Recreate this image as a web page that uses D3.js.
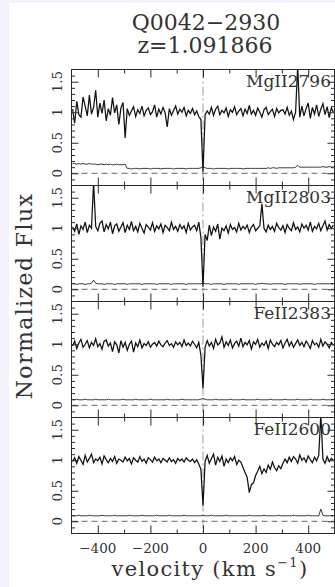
<!DOCTYPE html>
<html>
<head>
<meta charset="utf-8">
<script src="https://cdn.jsdelivr.net/npm/d3@7"></script>
<style>
  html, body { margin: 0; padding: 0; background: #fff; }
  svg { display: block; }
</style>
</head>
<body>
<div id="chart"></div>
<script>
// Données
const titleLines = ['Q0042\u22122930', 'z=1.091866'];
const transitions = ['MgII2796', 'MgII2803', 'FeII2383', 'FeII2600'];

// grille en vitesse (pixels de 8 km/s, centrés)
const vStart = -496;
const vStep = 8;

const xDomain = [-500, 500];
const yDomain = [-0.2, 1.7];
const xMajor = [-400, -200, 0, 200, 400];
const xMinor = [-300, -100, 100, 300];
const yMajor = [0, 0.5, 1, 1.5];
const yMinor = [-0.1, 0.1, 0.2, 0.3, 0.4, 0.6, 0.7, 0.8, 0.9, 1.1, 1.2, 1.3, 1.4, 1.6];

const fluxMg2796 = [
  1.05, 0.82, 1.18, 0.96, 0.92, 1.25, 1.1, 0.94, 1.28, 0.97,
  1.08, 1.36, 0.92, 1.15, 0.98, 1.2, 0.86, 1.06, 0.95, 1.24,
  0.99, 1.12, 0.8, 1.07, 1.16,
  0.58,
  1.06, 0.95, 1.02, 1.09, 0.93, 1.04, 0.98, 1.1, 0.94, 1.03,
  1.07, 0.96, 1.01, 1.12, 0.92, 1.05, 0.97, 1.08, 0.99, 0.76,
  1.06, 0.95, 1.03, 1.1,
  0.97, 1.05, 1.0, 1.08, 0.94, 1.03, 0.98, 1.06, 0.96, 1.02, 0.93,
  0.88, 0.02, 0.96,
  1.02, 0.97, 1.08, 0.95, 1.05, 1.1, 0.96, 1.03, 0.99, 1.07,
  0.93, 1.04, 1.0, 1.09, 0.96, 1.02, 1.06, 0.94, 1.05, 0.98,
  1.11, 0.97, 1.03, 0.95, 1.07, 1.0, 0.92, 1.04, 1.08, 0.96,
  1.01, 1.05, 0.93, 1.06, 0.99, 1.03,
  1.04, 0.97, 1.08, 0.95, 1.02, 0.88, 1.0, 1.75, 0.92,
  1.1, 0.94, 1.06, 1.15, 0.9, 1.08, 0.97, 1.12, 0.93, 1.05,
  1.14, 0.96, 1.09, 0.91, 1.07, 1.0
];
const sigmaMg2796 = [
  0.16, 0.16, 0.15, 0.16, 0.15, 0.16, 0.15, 0.15, 0.16, 0.15,
  0.15, 0.15, 0.14, 0.15, 0.15, 0.14, 0.15, 0.14, 0.15, 0.14,
  0.14, 0.15, 0.14, 0.14, 0.14, 0.15,
  0.08, 0.08, 0.07, 0.08, 0.08, 0.08, 0.07, 0.08, 0.08, 0.08,
  0.08, 0.07, 0.08, 0.08, 0.08, 0.08, 0.07, 0.08, 0.08, 0.08,
  0.08, 0.08, 0.07, 0.08, 0.08, 0.08, 0.08, 0.08, 0.07, 0.08,
  0.08, 0.08, 0.08, 0.08, 0.08, 0.09,
  0.11,
  0.09, 0.08, 0.08, 0.08, 0.07, 0.08, 0.08, 0.08, 0.08, 0.08,
  0.08, 0.07, 0.08, 0.08, 0.08, 0.08, 0.08, 0.08, 0.07, 0.08,
  0.08, 0.08, 0.08, 0.08, 0.08, 0.08, 0.08, 0.08, 0.08, 0.08,
  0.09, 0.08, 0.09, 0.09, 0.08, 0.09, 0.09, 0.09, 0.09, 0.09,
  0.09, 0.09, 0.09, 0.1,
  0.13,
  0.1, 0.1, 0.1, 0.1, 0.1, 0.1, 0.1, 0.1, 0.1, 0.1,
  0.1, 0.11, 0.1, 0.1, 0.11, 0.1, 0.11
];

const fluxMg2803 = [
  1.02, 0.95, 1.07, 0.9, 1.04, 0.98, 1.1, 0.93, 1.05, 1.0,
  1.75,
  1.03, 0.96, 1.08, 1.12, 0.94, 1.06, 0.99, 1.1, 0.91, 1.04,
  1.07, 0.95, 1.02, 1.09, 0.93, 1.05, 0.98, 1.11, 0.96, 1.03,
  0.94, 1.08, 1.0, 0.92, 1.06, 1.02, 0.97, 1.09, 0.95, 1.04,
  0.99, 1.07, 0.93, 1.05, 1.01, 0.96, 1.1, 0.98, 1.03,
  0.95, 1.06, 0.99, 1.04, 0.93, 1.08, 0.97, 1.02, 1.05, 0.96, 1.1,
  0.85, 0.04, 0.9,
  0.8, 1.05, 0.88, 1.02, 0.95, 1.07, 0.82, 1.0, 0.96, 1.04,
  0.92, 1.06, 0.98, 1.01, 0.94, 1.08, 0.97, 1.03, 0.99, 1.05,
  0.93, 1.02, 1.06, 0.96, 1.0, 1.04,
  1.4,
  1.0, 0.94, 1.05, 0.98, 1.03, 0.95, 1.08, 1.01, 0.97, 1.04,
  0.93, 1.06, 1.0, 0.96, 1.09, 0.98, 1.02, 0.94, 1.07, 1.0,
  1.05, 0.97, 1.1, 0.95, 1.03, 0.99, 1.08, 0.96, 1.04, 1.12,
  0.97, 1.06, 1.0, 1.05
];
const sigmaMg2803 = [
  0.09, 0.09, 0.08, 0.09, 0.09, 0.09, 0.08, 0.09, 0.09, 0.1,
  0.15,
  0.1, 0.09, 0.09, 0.09, 0.08, 0.09, 0.09, 0.09, 0.09, 0.08,
  0.09, 0.09, 0.09, 0.09, 0.09, 0.08, 0.09, 0.09, 0.09, 0.09,
  0.09, 0.09, 0.08, 0.09, 0.09, 0.09, 0.09, 0.09, 0.09, 0.08,
  0.09, 0.09, 0.09, 0.09, 0.09, 0.09, 0.08, 0.09, 0.09, 0.09,
  0.09, 0.09, 0.09, 0.08, 0.09, 0.09, 0.09, 0.09, 0.09, 0.09,
  0.09, 0.11,
  0.09, 0.09, 0.09, 0.08, 0.09, 0.09, 0.09, 0.09, 0.09, 0.08,
  0.09, 0.09, 0.09, 0.09, 0.09, 0.09, 0.08, 0.09, 0.09, 0.09,
  0.09, 0.09, 0.09, 0.09, 0.08, 0.09, 0.09,
  0.1,
  0.09, 0.09, 0.09, 0.08, 0.09, 0.09, 0.09, 0.09, 0.09, 0.09,
  0.08, 0.09, 0.09, 0.09, 0.09, 0.09, 0.09, 0.08, 0.09, 0.09,
  0.09, 0.09, 0.09, 0.09, 0.08, 0.09, 0.09, 0.09, 0.09, 0.09,
  0.09, 0.09, 0.09, 0.09
];

const fluxFe2383 = [
  0.97, 1.05, 0.93, 1.02, 1.08, 0.95, 1.0, 1.06, 0.94, 1.03,
  0.98, 1.09, 0.96, 1.01, 0.92, 1.05, 1.07, 0.97, 1.02, 0.88,
  1.04, 0.99, 0.86, 1.06, 0.95, 1.03, 0.9, 1.0, 1.05, 0.87,
  1.02, 0.96, 1.07, 0.94, 1.01, 0.98, 1.04, 0.95, 1.0, 1.03,
  0.97, 1.05, 0.99, 0.96, 1.02, 1.06, 0.98, 1.01, 0.95, 1.04,
  0.99, 1.03, 0.96, 1.07, 0.98, 1.02, 0.97, 1.05, 1.0, 0.94,
  1.03,
  0.82, 0.28, 0.95,
  1.06, 0.97, 1.03, 0.93, 1.08, 0.99, 1.02, 1.12, 0.95, 1.04,
  0.98, 1.07, 0.94, 1.01, 1.05, 0.97, 1.1, 0.96, 1.03, 0.99,
  1.06, 0.92, 1.04, 1.0, 1.08, 0.95, 1.02, 0.98, 1.05, 0.93,
  1.07, 1.0, 0.96, 1.03, 0.99, 1.06, 0.94, 1.02, 1.08, 0.97,
  1.04, 0.95, 1.01, 1.07, 0.98, 1.03, 0.96, 1.05, 1.0, 0.93,
  1.06, 0.99, 1.02, 0.95, 1.08, 0.97, 1.04, 1.0, 0.94, 1.03,
  0.98
];
const sigmaFe2383 = [
  0.09, 0.09, 0.1, 0.09, 0.09, 0.09, 0.1, 0.09, 0.09, 0.09,
  0.09, 0.1, 0.09, 0.09, 0.09, 0.09, 0.09, 0.1, 0.09, 0.09,
  0.09, 0.09, 0.09, 0.09, 0.1, 0.09, 0.09, 0.09, 0.09, 0.09,
  0.1, 0.09, 0.09, 0.09, 0.09, 0.09, 0.09, 0.1, 0.09, 0.09,
  0.09, 0.09, 0.09, 0.09, 0.09, 0.1, 0.09, 0.09, 0.09, 0.09,
  0.09, 0.09, 0.1, 0.09, 0.09, 0.09, 0.09, 0.09, 0.09, 0.09,
  0.09, 0.1,
  0.11,
  0.1, 0.09, 0.09, 0.09, 0.09, 0.1, 0.09, 0.09, 0.09, 0.09,
  0.09, 0.09, 0.1, 0.09, 0.09, 0.09, 0.09, 0.09, 0.1, 0.09,
  0.09, 0.09, 0.09, 0.09, 0.09, 0.1, 0.09, 0.09, 0.09, 0.09,
  0.09, 0.1, 0.09, 0.09, 0.09, 0.09, 0.09, 0.09, 0.1, 0.09,
  0.09, 0.09, 0.09, 0.09, 0.1, 0.09, 0.09, 0.09, 0.09, 0.09,
  0.1, 0.09, 0.09, 0.09, 0.09, 0.09, 0.1, 0.09, 0.09, 0.09,
  0.09, 0.1
];

const fluxFe2600 = [
  0.98, 1.04, 0.95, 1.06, 1.0, 0.93, 1.08, 0.97, 1.03, 1.1,
  0.96, 1.02, 0.99, 1.05, 0.94, 1.07, 1.01, 0.96, 1.03, 0.98,
  1.06, 0.95, 1.02, 1.0, 0.97, 1.05, 0.99, 1.03, 0.94, 1.04,
  1.0, 0.97, 1.06, 0.98, 1.02, 0.95, 1.04, 1.01, 0.97, 1.05,
  0.99, 1.02, 0.96, 1.03, 1.0, 0.97, 1.04, 0.98, 1.01, 0.95,
  1.03, 0.99, 1.02, 0.97, 1.04, 1.0, 0.98, 1.02, 0.96, 1.01,
  0.94,
  0.85, 0.26, 0.98,
  1.08, 0.95, 1.03, 1.1, 0.92, 1.05, 0.98, 1.07, 0.9, 1.02,
  0.96, 1.04, 0.99, 1.06, 0.93, 1.0, 0.97, 0.88, 0.8, 0.72,
  0.47, 0.6, 0.63, 0.75, 0.82, 0.9, 0.78, 0.86, 0.8, 0.92,
  0.85, 0.97, 0.88, 0.83, 0.91, 0.86, 0.95, 1.02, 0.96, 1.05,
  0.98, 1.06, 1.02, 0.95, 1.09, 1.0, 1.04, 0.97, 1.07, 1.01,
  0.96, 1.05, 0.99, 1.08, 1.75, 1.02, 0.95, 1.06, 0.98, 1.03, 1.0
];
const sigmaFe2600 = [
  0.09, 0.09, 0.09, 0.1, 0.09, 0.09, 0.09, 0.09, 0.1, 0.09,
  0.09, 0.09, 0.09, 0.09, 0.1, 0.09, 0.09, 0.09, 0.09, 0.09,
  0.1, 0.09, 0.09, 0.09, 0.09, 0.09, 0.09, 0.1, 0.09, 0.09,
  0.09, 0.09, 0.09, 0.1, 0.09, 0.09, 0.09, 0.09, 0.09, 0.09,
  0.1, 0.09, 0.09, 0.09, 0.09, 0.09, 0.1, 0.09, 0.09, 0.09,
  0.09, 0.09, 0.09, 0.1, 0.09, 0.09, 0.09, 0.09, 0.09, 0.09,
  0.09, 0.09,
  0.1,
  0.09, 0.09, 0.09, 0.1, 0.09, 0.09, 0.09, 0.09, 0.09, 0.09,
  0.1, 0.09, 0.09, 0.09, 0.09, 0.09, 0.09, 0.09, 0.09, 0.09,
  0.09, 0.1, 0.09, 0.09, 0.09, 0.09, 0.09, 0.09, 0.1, 0.09,
  0.09, 0.09, 0.09, 0.09, 0.09, 0.1, 0.09, 0.09, 0.09, 0.09,
  0.09, 0.09, 0.1, 0.09, 0.09, 0.09, 0.09, 0.09, 0.09, 0.1,
  0.09, 0.09, 0.09, 0.09, 0.09,
  0.2,
  0.1, 0.09, 0.09, 0.09, 0.09, 0.09
];

const fluxes = [fluxMg2796, fluxMg2803, fluxFe2383, fluxFe2600];
const sigmas = [sigmaMg2796, sigmaMg2803, sigmaFe2383, sigmaFe2600];

// Mise en page
const width = 335, height = 587;
const plotLeft = 71.5, plotRight = 334.5;
const firstTop = 69.5, panelH = 116;
const serif = '"DejaVu Serif", "Liberation Serif", serif';
const ink = '#2a2a2a';

const svg = d3.select('#chart').append('svg')
    .attr('width', width)
    .attr('height', height);

// fond : liseré lavande à gauche et en haut
svg.append('rect').attr('width', width).attr('height', height).attr('fill', '#f4f2fc');
svg.append('rect').attr('x', 9).attr('y', 3)
    .attr('width', width - 9).attr('height', height - 3).attr('fill', '#fff');

const x = d3.scaleLinear().domain(xDomain).range([plotLeft, plotRight]);

// Titre
svg.append('text')
    .attr('x', 206).attr('y', 30)
    .attr('text-anchor', 'middle')
    .style('font-family', serif).style('font-size', '22px').style('fill', '#333')
    .text(titleLines[0]);
svg.append('text')
    .attr('x', 205).attr('y', 53)
    .attr('text-anchor', 'middle')
    .style('font-family', serif).style('font-size', '22px').style('fill', '#333')
    .text(titleLines[1]);

transitions.forEach((name, i) => {
    const top = firstTop + i * panelH;
    const bottom = top + panelH;
    const y = d3.scaleLinear().domain(yDomain).range([bottom, top]);
    const g = svg.append('g').attr('class', 'panel');

    const clipId = 'clip-' + i;
    svg.append('clipPath').attr('id', clipId)
        .append('rect')
        .attr('x', plotLeft).attr('y', top)
        .attr('width', plotRight - plotLeft).attr('height', panelH);

    // ligne de vitesse nulle (tiret-point gris)
    g.append('line')
        .attr('x1', x(0)).attr('x2', x(0))
        .attr('y1', top).attr('y2', bottom)
        .attr('stroke', '#9a9a9a')
        .attr('stroke-width', 1)
        .attr('stroke-dasharray', '9,3,2,3');

    // ligne de flux nul (tirets)
    g.append('line')
        .attr('x1', plotLeft).attr('x2', plotRight)
        .attr('y1', y(0)).attr('y2', y(0))
        .attr('stroke', '#666')
        .attr('stroke-width', 1)
        .attr('stroke-dasharray', '6,4');

    const line = d3.line()
        .x(d => x(d.v))
        .y(d => y(d.f));

    const spec = fluxes[i].map((f, j) => ({ v: vStart + j * vStep, f: f }));
    const err = sigmas[i].map((f, j) => ({ v: vStart + j * vStep, f: f }));

    const data = g.append('g').attr('clip-path', `url(#${clipId})`);
    data.append('path')
        .datum(err)
        .attr('d', line)
        .attr('fill', 'none')
        .attr('stroke', '#222')
        .attr('stroke-width', 0.9);
    data.append('path')
        .datum(spec)
        .attr('d', line)
        .attr('fill', 'none')
        .attr('stroke', '#111')
        .attr('stroke-width', 1.25);

    // axes : graduations vers l'intérieur sur les quatre côtés
    const noText = () => '';
    const axes = [
        g.append('g').attr('transform', `translate(0,${top})`)
            .call(d3.axisBottom(x).tickValues(xMajor).tickSize(8).tickFormat(noText)),
        g.append('g').attr('transform', `translate(0,${top})`)
            .call(d3.axisBottom(x).tickValues(xMinor).tickSize(4).tickFormat(noText)),
        g.append('g').attr('transform', `translate(0,${bottom})`)
            .call(d3.axisTop(x).tickValues(xMajor).tickSize(8).tickFormat(noText)),
        g.append('g').attr('transform', `translate(0,${bottom})`)
            .call(d3.axisTop(x).tickValues(xMinor).tickSize(4).tickFormat(noText)),
        g.append('g').attr('transform', `translate(${plotLeft},0)`)
            .call(d3.axisRight(y).tickValues(yMajor).tickSize(7).tickFormat(noText)),
        g.append('g').attr('transform', `translate(${plotLeft},0)`)
            .call(d3.axisRight(y).tickValues(yMinor).tickSize(3.5).tickFormat(noText)),
        g.append('g').attr('transform', `translate(${plotRight},0)`)
            .call(d3.axisLeft(y).tickValues(yMajor).tickSize(7).tickFormat(noText)),
        g.append('g').attr('transform', `translate(${plotRight},0)`)
            .call(d3.axisLeft(y).tickValues(yMinor).tickSize(3.5).tickFormat(noText))
    ];
    axes.forEach(a => {
        a.select('.domain').remove();
        a.selectAll('line').attr('stroke', ink);
    });

    // cadre
    g.append('rect')
        .attr('x', plotLeft).attr('y', top)
        .attr('width', plotRight - plotLeft).attr('height', panelH)
        .attr('fill', 'none')
        .attr('stroke', ink)
        .attr('stroke-width', 1);

    // étiquettes de l'axe des flux (tournées)
    g.selectAll('.ylab')
        .data(yMajor)
        .enter()
        .append('text')
        .attr('class', 'ylab')
        .attr('transform', d => `translate(62,${y(d)}) rotate(-90)`)
        .attr('text-anchor', 'middle')
        .style('font-family', serif)
        .style('font-size', '13.5px')
        .style('fill', '#333')
        .text(d => String(d));

    // nom de la transition
    g.append('text')
        .attr('x', 331).attr('y', top + 17)
        .attr('text-anchor', 'end')
        .style('font-family', serif)
        .style('font-size', '17px')
        .style('fill', '#333')
        .text(name);

    // étiquettes de vitesse sous le dernier panneau
    if (i === transitions.length - 1) {
        g.selectAll('.xlab')
            .data(xMajor)
            .enter()
            .append('text')
            .attr('class', 'xlab')
            .attr('x', d => x(d))
            .attr('y', bottom + 19)
            .attr('text-anchor', 'middle')
            .style('font-family', serif)
            .style('font-size', '13.5px')
            .style('fill', '#333')
            .text(d => d < 0 ? '\u2212' + Math.abs(d) : String(d));
    }
});

// titres des axes
svg.append('text')
    .attr('transform', 'translate(32,296) rotate(-90)')
    .attr('text-anchor', 'middle')
    .style('font-family', serif)
    .style('font-size', '22px')
    .style('letter-spacing', '1.4px')
    .style('fill', '#333')
    .text('Normalized Flux');

const xTitle = svg.append('text')
    .attr('x', 210).attr('y', 576)
    .attr('text-anchor', 'middle')
    .style('font-family', serif)
    .style('font-size', '21px')
    .style('letter-spacing', '1.3px')
    .style('fill', '#333');
xTitle.append('tspan').text('velocity (km s');
xTitle.append('tspan').attr('dy', -9).style('font-size', '13px').text('\u22121');
xTitle.append('tspan').attr('dy', 9).text(')');
</script>
</body>
</html>
